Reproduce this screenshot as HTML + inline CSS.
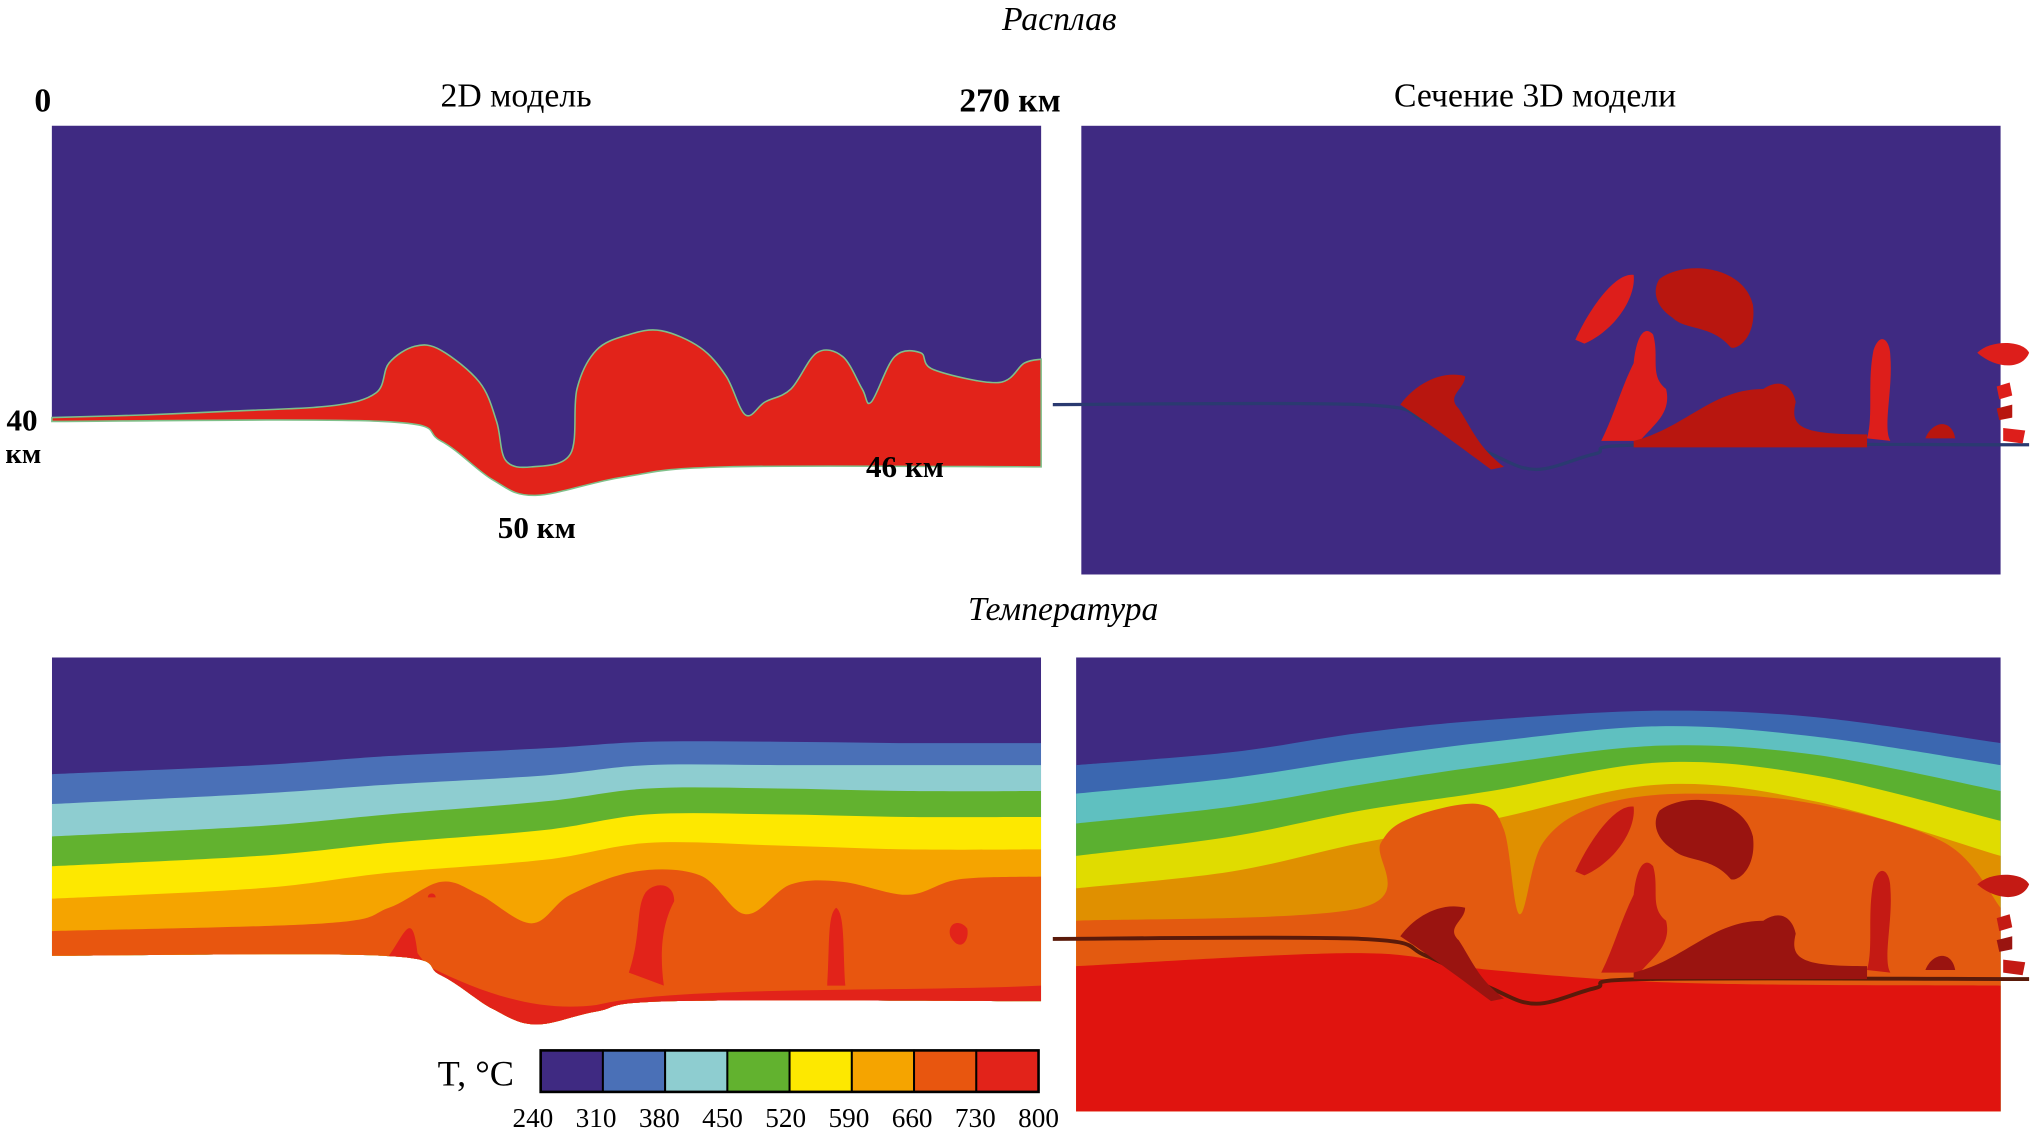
<!DOCTYPE html>
<html><head><meta charset="utf-8">
<style>
html,body{margin:0;padding:0;background:#fff;width:2033px;height:1136px;overflow:hidden}
svg{display:block}
text{font-family:"Liberation Serif",serif;fill:#000}
</style></head>
<body>
<svg id="fig" width="2033" height="1136" viewBox="0 0 1568 876" preserveAspectRatio="none" xmlns="http://www.w3.org/2000/svg">
<text x="817" y="23" font-size="26" font-style="italic" text-anchor="middle">Расплав</text>
<text x="33" y="86" font-size="26" font-weight="bold" text-anchor="middle">0</text>
<text x="398" y="82" font-size="26" text-anchor="middle">2D модель</text>
<text x="779" y="86" font-size="26" font-weight="bold" text-anchor="middle">270 км</text>
<text x="1184" y="82" font-size="26" text-anchor="middle">Сечение 3D модели</text>
<text x="820" y="478" font-size="26" font-style="italic" text-anchor="middle">Температура</text>

<g id="tl"></g>
<g id="tr"></g>
<g id="bl"></g>
<g id="br"></g>

<text x="17" y="332" font-size="24" font-weight="bold" text-anchor="middle">40</text>
<text x="18" y="357" font-size="22" font-weight="bold" text-anchor="middle">км</text>
<text x="698" y="368" font-size="24" font-weight="bold" text-anchor="middle">46 км</text>
<text x="414" y="415" font-size="24" font-weight="bold" text-anchor="middle">50 км</text>

<g id="cb"></g>
<text x="367" y="837" font-size="28" text-anchor="middle">T, °C</text>
</svg>
<script>
const NS="http://www.w3.org/2000/svg";
// colorbar data
const cbTicks=[240,310,380,450,520,590,660,730,800];
const cbColors=["#3f2a82","#4a70b7","#8ecdd0","#62b22f","#fde800","#f5a400","#e8560f","#e2231a"];
// 2D temperature isotherm profiles (x,y pairs)
const bl310=[[40,597],[200,590],[300,583],[420,577],[500,572],[600,572],[700,573],[803,573]];
const bl380=[[40,620],[200,612],[300,605],[420,598],[500,590],[600,590],[700,590],[803,590]];
const bl450=[[40,645],[200,637],[300,628],[420,618],[500,608],[600,608],[700,610],[803,610]];
const bl520=[[40,668],[200,660],[300,650],[420,640],[500,628],[600,628],[700,630],[803,630]];
const bl590=[[40,693],[200,685],[300,673],[420,663],[500,650],[600,652],[700,655],[803,655]];
const bl660=[[40,718],[250,712],[300,700],[340,680],[370,690],[410,712],[440,690],[490,672],[540,675],[575,705],[610,682],[650,680],[700,690],[740,678],[803,676]];
const blBottom=[[40,737],[295,737],[340,752],[380,778],[413,790],[460,780],[520,772],[803,772]];
// 3D temperature profiles
const br310=[[830,590],[950,580],[1050,565],[1150,555],[1280,548],[1400,553],[1543,573]];
const br380=[[830,612],[950,600],[1050,585],[1150,572],[1280,560],[1400,568],[1543,590]];
const br450=[[830,635],[950,622],[1050,605],[1150,590],[1280,575],[1400,582],[1543,610]];
const br520=[[830,660],[950,645],[1050,625],[1150,610],[1280,588],[1400,598],[1543,633]];
const br590=[[830,685],[950,672],[1050,650],[1150,632],[1280,605],[1400,618],[1543,660]];
const br660=[[830,710],[1050,700],[1065,650],[1090,630],[1140,620],[1160,640],[1172,705],[1190,650],[1230,622],[1300,612],[1400,620],[1500,650],[1543,700]];
const br730=[[830,745],[1050,735],[1150,748],[1300,758],[1543,760]];
// melt 2D profile
const meltTop=[[40,322],[110,320],[180,317],[255,313],[290,303],[300,280],[320,267],[340,270],[370,295],[383,325],[390,355],[410,360],[440,350],[445,300],[460,270],[485,258],[510,255],[540,268],[560,290],[575,320],[590,310],[610,300],[630,272],[650,275],[665,300],[672,310],[690,275],[710,272],[720,285],[770,295],[790,280],[803,277]];
const meltBottom=[[803,360],[560,360],[480,368],[413,382],[380,370],[340,340],[295,325],[40,325]];
const slab=[[812,312],[1050,312],[1100,325],[1150,350],[1185,362],[1230,350],[1270,343],[1565,343]];

function smooth(pts){
  let d="M"+pts[0][0]+","+pts[0][1];
  for(let i=0;i<pts.length-1;i++){
    const p0=pts[i-1]||pts[i],p1=pts[i],p2=pts[i+1],p3=pts[i+2]||p2;
    const c1x=p1[0]+(p2[0]-p0[0])/6,c1y=p1[1]+(p2[1]-p0[1])/6;
    const c2x=p2[0]-(p3[0]-p1[0])/6,c2y=p2[1]-(p3[1]-p1[1])/6;
    d+=" C"+c1x+","+c1y+" "+c2x+","+c2y+" "+p2[0]+","+p2[1];
  }
  return d;
}
function lineTo(pts){return pts.map(p=>" L"+p[0]+","+p[1]).join("");}
function add(parent,tag,attrs){const e=document.createElementNS(NS,tag);for(const k in attrs)e.setAttribute(k,attrs[k]);parent.appendChild(e);return e;}
function band(g,prof,bottomY,color,name){
  const d=smooth(prof)+" L"+prof[prof.length-1][0]+","+bottomY+" L"+prof[0][0]+","+bottomY+" Z";
  const p=add(g,"path",{d:d,fill:color});
  
  
}
const defs=add(document.getElementById("fig"),"defs",{});

// --- top-left melt
(function(){
  const g=document.getElementById("tl");
  const outline="M40,97 L803,97 L803,360"+smooth(meltBottom).replace(/^M[^C]*/," L803,360")+" Z";
  const bg=add(g,"path",{d:outline,fill:"#3f2a82"});
  
  
  const red=smooth(meltTop)+lineTo(meltBottom)+" Z";
  const r=add(g,"path",{d:smooth(meltTop)+" L803,360"+smooth(meltBottom).replace(/^M[^C]*/,"")+" Z",fill:"#e2231a",stroke:"#7fc08a","stroke-width":"1.2"});
  
  
})();

// --- top-right melt 3D
function blobs(g,dark){
  const c1=dark?"#c41a14":"#dd1e1b", c2=dark?"#9a1410":"#b8160f";
  const shapes=[
    "M1215,262 C1225,240 1245,210 1260,212 C1262,230 1245,255 1222,265 Z",
    "M1280,215 C1300,200 1345,205 1352,235 C1355,260 1340,270 1335,268 C1320,250 1300,255 1290,245 C1275,235 1275,222 1280,215 Z",
    "M1235,340 C1245,320 1250,300 1260,280 C1262,260 1268,250 1275,258 C1280,275 1272,290 1285,300 C1290,320 1272,330 1265,340 Z",
    "M1260,340 C1300,330 1320,300 1360,300 C1375,290 1383,300 1385,310 C1380,330 1390,335 1440,335 L1440,345 L1260,345 Z",
    "M1440,338 C1445,320 1440,295 1445,270 C1450,255 1458,262 1458,275 C1460,300 1452,330 1458,340 Z",
    "M1080,312 C1090,298 1110,285 1130,290 C1130,300 1115,305 1125,315 C1135,330 1140,345 1160,360 L1150,362 C1120,340 1100,325 1080,312 Z",
    "M1525,272 C1535,262 1560,262 1565,272 C1560,285 1540,285 1525,272 Z",
    "M1485,338 C1490,325 1505,322 1508,338 Z",
    "M1540,298 L1550,295 L1552,305 L1542,308 Z","M1540,315 L1552,312 L1552,322 L1542,324 Z","M1545,330 L1562,332 L1560,342 L1545,340 Z"
  ];
  shapes.forEach((d,i)=>{
    const p=add(g,"path",{d:d,fill:i%2?c2:c1});
    
    
  });
}
(function(){
  const g=document.getElementById("tr");
  const bg=add(g,"rect",{x:834,y:97,width:709,height:346,fill:"#3f2a82"});
  
  
  const s=add(g,"path",{d:smooth(slab),fill:"none",stroke:"#2a3a70","stroke-width":"2.5"});
  
  
  blobs(g,false);
})();

// --- bottom-left temperature
(function(){
  const g=document.getElementById("bl");
  const cp=add(defs,"clipPath",{id:"clipBL"});
  add(cp,"path",{d:"M40,507 L803,507 L803,772"+smooth(blBottom.slice().reverse()).replace(/^M[^C]*/,"")+" Z"});
  const inner=add(g,"g",{"clip-path":"url(#clipBL)"});
  const bg=add(inner,"rect",{x:40,y:507,width:763,height:300,fill:cbColors[0]});
  
  
  const profs=[bl310,bl380,bl450,bl520,bl590,bl660];
  profs.forEach((p,i)=>band(inner,p,810,cbColors[i+1],"isotherm-band-"+cbTicks[i+1]));
  const plumes=["M300,737 C312,720 318,700 322,735 C340,760 360,770 300,737 Z",
    "M485,750 C495,720 490,700 498,688 C505,680 520,680 520,695 C512,710 508,730 512,760 Z",
    "M638,760 C640,730 638,705 645,700 C652,705 650,735 652,760 Z",
    "M733,722 C730,712 740,708 746,716 C748,726 740,735 733,722 Z",
    "M330,692 C330,688 336,688 336,692 Z",
    "M300,737 C350,770 390,795 413,795 C470,790 520,775 803,772 L803,760 C700,765 520,760 460,775 C420,780 380,770 330,745 Z"];
  plumes.forEach(d=>{const p=add(inner,"path",{d:d,fill:cbColors[7]});
    
    });
})();

// --- bottom-right temperature
(function(){
  const g=document.getElementById("br");
  const bg=add(g,"rect",{x:830,y:507,width:713,height:350,fill:"#3f2a82"});
  
  
  const cols=["#3b67b0","#5fc0c0","#5bb030","#e0dc00","#e09000","#e35a10","#e0140f"];
  const profs=[br310,br380,br450,br520,br590,br660,br730];
  profs.forEach((p,i)=>band(g,p,857,cols[i],"isotherm-band-3d-"+cbTicks[i+1]));
  const s=add(g,"path",{d:smooth(slab.map(p=>[p[0],p[1]+412])),fill:"none",stroke:"#5a1a0a","stroke-width":"3"});
  
  
  const bg2=add(g,"g",{transform:"translate(0,410)"});
  blobs(bg2,true);
})();

// --- colorbar
(function(){
  const g=document.getElementById("cb");
  const x0=417,x1=801,y=810,h=32,w=(x1-x0)/cbColors.length;
  cbColors.forEach((c,i)=>{
    const r=add(g,"rect",{x:x0+i*w,y:y,width:w,height:h,fill:c,stroke:"#000","stroke-width":"1.5"});
    
    
  });
  const f=add(g,"rect",{x:x0,y:y,width:x1-x0,height:h,fill:"none",stroke:"#000","stroke-width":"2"});
  
  
  cbTicks.forEach((t,i)=>{
    const tx=add(g,"text",{x:411+i*(801-411)/(cbTicks.length-1),y:869,"font-size":"21","text-anchor":"middle"});
    tx.textContent=t;
    
    
  });
})();
</script>
</body></html>
